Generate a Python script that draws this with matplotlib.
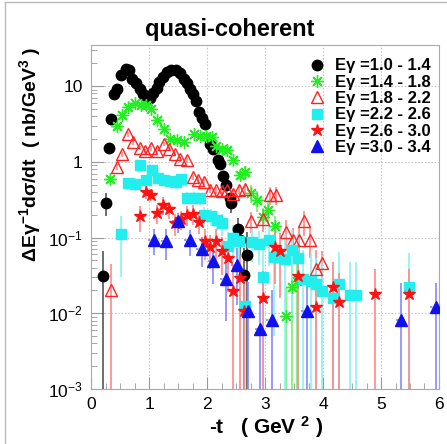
import numpy as np
import matplotlib
matplotlib.use("Agg")
import matplotlib.pyplot as plt
from matplotlib.lines import Line2D
from matplotlib.ticker import FixedLocator, LogLocator, MultipleLocator

plt.rcParams['font.family'] = ['Liberation Sans', 'DejaVu Sans']
plt.rcParams['mathtext.fontset'] = 'custom'
plt.rcParams['mathtext.rm'] = 'Liberation Sans'
plt.rcParams['mathtext.bf'] = 'Liberation Sans:bold'
plt.rcParams['mathtext.it'] = 'Liberation Sans:italic'

# E_gamma = 1.0 - 1.4
x_b = [0.21, 0.26, 0.31, 0.35, 0.40, 0.45, 0.52, 0.60, 0.65, 0.71, 0.78, 0.84, 0.90, 0.95, 1.01,
       1.07, 1.13, 1.18, 1.24, 1.31, 1.38, 1.47, 1.54, 1.60, 1.66, 1.71, 1.76, 1.81, 1.86, 1.91,
       1.96, 2.05, 2.10, 2.19, 2.23, 2.28, 2.33, 2.39, 2.42, 2.53, 2.57, 2.63, 2.69]
y_b = [0.031, 0.29, 1.52, 3.7, 7.8, 9.3, 14.0, 16.8, 16.3, 12.6, 10.9, 9.3, 7.8, 6.9, 7.0,
       8.0, 9.5, 11.2, 13.3, 15.2, 16.3, 16.3, 14.7, 12.6, 10.9, 9.1, 7.8, 6.3, 4.6, 3.85,
       3.2, 1.74, 1.5, 1.05, 0.93, 0.66, 0.49, 0.33, 0.29, 0.13, 0.093, 0.032, 0.059]
e_b = [0.035, 0.1, 0.15, 0.3, 0.4, 0.4, 0.5, 0.5, 0.5, 0.4, 0.4, 0.35, 0.3, 0.3, 0.3,
       0.3, 0.35, 0.4, 0.4, 0.45, 0.45, 0.45, 0.45, 0.4, 0.35, 0.3, 0.3, 0.25, 0.2, 0.2,
       0.2, 0.12, 0.12, 0.1, 0.1, 0.08, 0.07, 0.06, 0.08, 0.05, 0.04, 0.04, 0.06]

# E_gamma = 1.4 - 1.8
x_g = [0.33, 0.44, 0.53, 0.64, 0.75, 0.86, 0.95, 1.04, 1.14, 1.26, 1.37, 1.49, 1.61, 1.77, 1.88,
       1.99, 2.08, 2.15, 2.25, 2.35, 2.45, 2.57, 2.66, 2.76, 2.87, 2.96, 3.06, 3.17, 3.37, 3.46, 3.56]
y_g = [0.6, 2.95, 4.2, 5.3, 5.9, 5.6, 5.6, 4.95, 3.55, 2.7, 1.99, 1.93, 1.85, 2.3, 2.2,
       2.2, 2.1, 1.63, 1.5, 1.42, 1.07, 0.67, 0.73, 0.39, 0.316, 0.186, 0.23, 0.14, 0.0093, 0.022, 0.027]
e_g = [0.05, 0.15, 0.2, 0.25, 0.25, 0.25, 0.25, 0.2, 0.15, 0.12, 0.1, 0.1, 0.1, 0.12, 0.12,
       0.12, 0.12, 0.1, 0.1, 0.1, 0.1, 0.1, 0.15, 0.1, 0.1, 0.06, 0.08, 0.05, 0.012, 0.025, 0.03]

# E_gamma = 1.8 - 2.2
x_rt = [0.34, 0.44, 0.54, 0.63, 0.73, 0.84, 0.93, 1.04, 1.14, 1.25, 1.34, 1.44, 1.53, 1.65, 1.75,
        1.85, 1.94, 2.05, 2.16, 2.26, 2.35, 2.45, 2.56, 2.66, 2.76, 2.97, 3.09, 3.19, 3.37, 3.48,
        3.58, 3.68, 3.78, 3.88, 3.98]
y_rt = [0.020, 0.85, 1.26, 2.3, 1.81, 1.53, 1.40, 1.51, 1.41, 1.71, 1.47, 1.28, 1.08, 1.06, 0.63,
        0.58, 0.54, 0.43, 0.42, 0.41, 0.43, 0.38, 0.43, 0.44, 0.166, 0.177, 0.37, 0.37, 0.12, 0.093,
        0.094, 0.166, 0.093, 0.038, 0.046]
e_rt = [0.025, 0.08, 0.1, 0.15, 0.12, 0.1, 0.1, 0.1, 0.1, 0.1, 0.1, 0.08, 0.08, 0.08, 0.05,
        0.05, 0.05, 0.04, 0.04, 0.04, 0.04, 0.04, 0.05, 0.05, 0.05, 0.06, 0.1, 0.1, 0.05, 0.04,
        0.04, 0.06, 0.04, 0.03, 0.02]

# E_gamma = 2.2 - 2.6
x_c = [0.52, 0.64, 0.76, 0.84, 0.95, 1.06, 1.15, 1.26, 1.37, 1.47, 1.56, 1.66, 1.78, 1.88, 1.95,
       2.07, 2.17, 2.26, 2.37, 2.45, 2.56, 2.66, 2.78, 2.90, 2.97, 3.07, 3.16, 3.35, 3.47, 3.57,
       3.66, 3.80, 3.88, 3.98, 4.18, 4.28, 4.47, 4.57, 5.49]
y_c = [0.11, 0.52, 0.51, 0.90, 0.58, 0.79, 0.61, 0.575, 0.55, 0.54, 0.60, 0.336, 0.336, 0.33, 0.20,
       0.19, 0.172, 0.156, 0.078, 0.098, 0.091, 0.0126, 0.088, 0.083, 0.030, 0.092, 0.055, 0.052, 0.068, 0.053,
       0.028, 0.027, 0.0245, 0.0195, 0.0159, 0.024, 0.0174, 0.0174, 0.022]
e_c = [0.08, 0.1, 0.1, 0.12, 0.1, 0.1, 0.1, 0.1, 0.1, 0.1, 0.1, 0.06, 0.06, 0.06, 0.05,
       0.05, 0.05, 0.05, 0.04, 0.05, 0.05, 0.015, 0.04, 0.04, 0.04, 0.05, 0.05, 0.06, 0.06, 0.06,
       0.04, 0.035, 0.03, 0.03, 0.03, 0.04, 0.03, 0.03, 0.04]

# E_gamma = 2.6 - 3.0
x_rs = [0.84, 0.94, 1.04, 1.13, 1.24, 1.35, 1.45, 1.56, 1.66, 1.76, 1.86, 1.96, 2.06, 2.16,
        2.25, 2.37, 2.45, 2.57, 2.64, 2.97, 3.17, 3.26, 3.57, 3.88, 4.18, 4.28, 4.89, 5.49]
y_rs = [0.19, 0.40, 0.37, 0.21, 0.27, 0.235, 0.155, 0.176, 0.20, 0.206, 0.16, 0.091, 0.074, 0.090,
        0.067, 0.054, 0.0199, 0.0296, 0.0107, 0.0158, 0.074, 0.066, 0.031, 0.012, 0.0224, 0.0139, 0.018, 0.018]
e_rs = [0.07, 0.08, 0.07, 0.06, 0.07, 0.06, 0.05, 0.05, 0.06, 0.06, 0.05, 0.04, 0.035, 0.04,
        0.035, 0.035, 0.025, 0.03, 0.015, 0.02, 0.05, 0.05, 0.035, 0.02, 0.025, 0.02, 0.02, 0.02]

# E_gamma = 3.0 - 3.4
x_bl = [1.09, 1.30, 1.50, 1.71, 1.91, 2.11, 2.32, 2.51, 2.71, 2.92, 3.12, 3.72, 5.35, 5.95]
y_bl = [0.093, 0.090, 0.164, 0.092, 0.071, 0.049, 0.028, 0.043, 0.0108, 0.0062, 0.0081, 0.0108, 0.0081, 0.012]
e_bl = [0.035, 0.04, 0.05, 0.035, 0.03, 0.025, 0.02, 0.03, 0.015, 0.01, 0.012, 0.013, 0.017, 0.013]

labels = ['E\u03b3 =1.0 - 1.4', 'E\u03b3 =1.4 - 1.8', 'E\u03b3 =1.8 - 2.2',
          'E\u03b3 =2.2 - 2.6', 'E\u03b3 =2.6 - 3.0', 'E\u03b3 =3.0 - 3.4']

ytick_vals = [1e-3, 1e-2, 1e-1, 1, 10]
ytick_labels = ['$10^{-3}$', '$10^{-2}$', '$10^{-1}$', '1', '10']

fig = plt.figure(figsize=(4.47, 4.44), dpi=100)
ax = fig.add_axes([0.2036, 0.1239, 0.7785, 0.7747])
ax.set_yscale('log', nonpositive='clip')

asterisk = (8, 2, 0)
styles = [
    (x_b, y_b, e_b, dict(marker='o', ms=7.5, mfc='black', mec='black', color='black'), '#555555'),
    (x_g, y_g, e_g, dict(marker=asterisk, ms=9, mfc='none', mec='#22ee22', mew=1.0, color='#22ee22'), '#77ee77'),
    (x_rt, y_rt, e_rt, dict(marker='^', ms=8, mfc='none', mec='#ff2222', mew=1.0, color='#ff2222'), '#ff8888'),
    (x_c, y_c, e_c, dict(marker='s', ms=6.5, mfc='#22eeee', mec='#22eeee', color='#22eeee'), '#88f4f4'),
    (x_rs, y_rs, e_rs, dict(marker='*', ms=9, mfc='#ff1111', mec='#ff1111', color='#ff1111'), '#ff8888'),
]
for xs, ys, es, mk, ecol in styles:
    ax.errorbar(xs, ys, yerr=es, fmt='none', ecolor=ecol, elinewidth=1.2, zorder=2)
    ax.plot(xs, ys, ls='none', zorder=3, **mk)

bl = ax.errorbar(x_bl, y_bl, yerr=e_bl, xerr=0.1, fmt='none', ecolor='#8888ff', elinewidth=1.2, zorder=2)
bl[2][0].set_linestyle((0, (1.5, 2)))
ax.plot(x_bl, y_bl, ls='none', marker='^', ms=8, mfc='#1111ee', mec='#1111ee', zorder=3)

ax.set_xlim(0, 6)
ax.set_ylim(1e-3, 34.9)
ax.xaxis.set_major_locator(MultipleLocator(1))
ax.xaxis.set_minor_locator(MultipleLocator(0.25))
ax.yaxis.set_major_locator(FixedLocator(ytick_vals))
ax.set_yticklabels(ytick_labels)
ax.yaxis.set_minor_locator(LogLocator(base=10, subs=np.arange(2, 10)))
ax.grid(True, which='major', color='#c8c8c8', linestyle=(0, (1.5, 1.5)), linewidth=0.8)
ax.tick_params(which='both', direction='in', color='#999999', labelsize=12.5, top=False, right=False)
ax.tick_params(which='major', length=9, pad=6)
ax.tick_params(which='minor', length=4.5)
for s in ax.spines.values():
    s.set_color('#aaaaaa')

handles = [Line2D([], [], ls='none', **st[3]) for st in styles]
handles.append(Line2D([], [], ls='none', marker='^', ms=8, mfc='#1111ee', mec='#1111ee'))
ax.legend(handles, labels, loc='upper right', bbox_to_anchor=(1.005, 0.99), frameon=False,
          prop={'weight': 'bold', 'size': 12}, handlelength=0.8, handletextpad=0.7,
          labelspacing=0.08, borderaxespad=0.2)

fig.text(0.515, 1 - 29.5 / 444, 'quasi-coherent', ha='center', va='center',
         fontsize=17, fontweight='bold')
fig.text(0.067, 1 - 47 / 444, '\u0394E\u03b3$^{\\mathbf{-1}}$d\u03c3/dt  ( nb/GeV$^{\\mathbf{3}}$ )',
         rotation=90, ha='center', va='top', fontsize=14, fontweight='bold')
fig.text(0.595, 1 - 427 / 444, r'-t   ( GeV $^{\mathbf{2}}$ )', ha='center', va='center',
         fontsize=15, fontweight='bold')

fig.add_artist(Line2D([5 / 447, 5 / 447], [0, 1 - 2 / 444], transform=fig.transFigure, color='#bbbbbb', lw=1))
fig.add_artist(Line2D([5 / 447, 1], [1 - 2 / 444, 1 - 2 / 444], transform=fig.transFigure, color='#bbbbbb', lw=1))

fig.savefig('out.png', dpi=100)
